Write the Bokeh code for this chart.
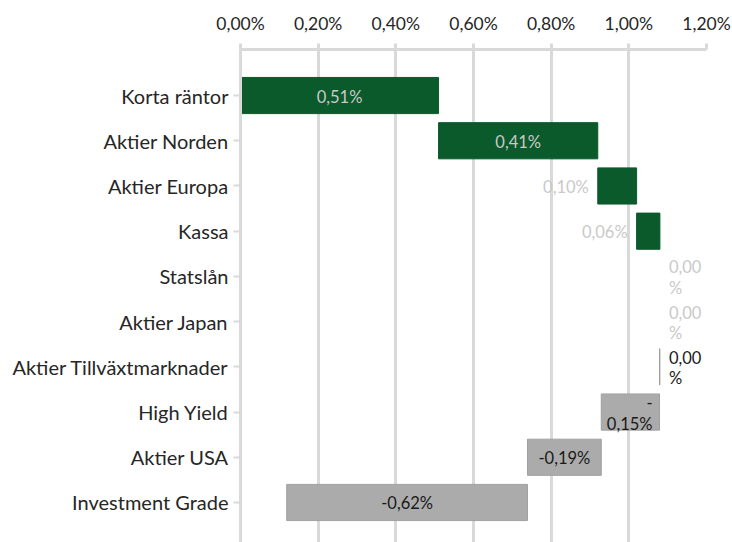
from bokeh.plotting import figure
from bokeh.models import Range1d, FixedTicker, CustomJSTickFormatter, ColumnDataSource
from bokeh.core.properties import value
from bokeh.embed import file_html
from bokeh.resources import INLINE

# ---- data ----
categories = ["Korta räntor", "Aktier Norden", "Aktier Europa", "Kassa", "Statslån",
              "Aktier Japan", "Aktier Tillväxtmarknader", "High Yield", "Aktier USA",
              "Investment Grade"]
contrib = [0.51, 0.41, 0.10, 0.06, 0.00, 0.00, -0.001, -0.15, -0.19, -0.62]
x_ticks = [0.0, 0.2, 0.4, 0.6, 0.8, 1.0, 1.2]
# label placement style per bar
label_mode = ["center", "center", "left", "left", "right", "right", "right", "wrap", "center", "center"]

FONT = "Lato"
GREEN = "#0a5a2b"
GRAY = "#ababab"
GRID = "#d9d9d9"

# waterfall geometry from data
starts, ends = [], []
run = 0.0
for v in contrib:
    starts.append(run)
    run += v
    ends.append(run)

idx = list(range(len(categories)))
fills = [GREEN if v > 0 else GRAY for v in contrib]
line_alpha = [0.0 if v == 0 else 1.0 for v in contrib]
line_cols = [GREEN if v > 0 else "#a0a0a0" for v in contrib]

bars = ColumnDataSource(dict(y=idx, left=starts, right=ends, fill=fills,
                             la=line_alpha, lc=line_cols))

p = figure(frame_width=466, frame_height=493, width=732, height=542,
           x_range=Range1d(0, 1.2), y_range=Range1d(9.885, -1.018),
           x_axis_location="above", output_backend="svg", toolbar_location=None,
           min_border_left=240, min_border_right=26, min_border_top=49,
           min_border_bottom=0, outline_line_color=None)

p.hbar(y="y", left="left", right="right", height=0.8, source=bars,
       fill_color="fill", line_color="lc", line_alpha="la", line_width=1)

# labels
lx, ly, lt, la_, lxo, lyo, lc = [], [], [], [], [], [], []
for i, v in enumerate(contrib):
    s = f"{abs(v):.2f}".replace(".", ",") + "%"
    if v < 0 and round(abs(v), 2) > 0:
        s = "-" + s
    col = "#c9c9c9" if v >= 0 else "#1a1a1a"
    mode = label_mode[i]
    lo, hi = min(starts[i], ends[i]), max(starts[i], ends[i])
    if mode == "center":
        lines = [s]; x = (lo + hi) / 2; al = "center"; xo = 0
    elif mode == "left":
        lines = [s]; x = lo; al = "right"; xo = -9
    elif mode == "right":
        lines = [s[:-1], "%"]; x = hi; al = "left"; xo = 9
    else:  # wrap inside bar
        lines = ["-", s[1:]]; x = hi; al = "right"; xo = -7
    n = len(lines)
    for k, t in enumerate(lines):
        lx.append(x); ly.append(i); lt.append(t); la_.append(al)
        lxo.append(xo); lyo.append((k - (n - 1) / 2) * 21 + 1); lc.append(col)

labels = ColumnDataSource(dict(x=lx, y=ly, text=lt, align=la_, xo=lxo, yo=lyo, c=lc))
p.text(x="x", y="y", text="text", source=labels, text_align="align",
       text_baseline="middle", x_offset="xo", y_offset="yo", text_color="c",
       text_font=value(FONT), text_font_size="16.5px")

# x axis (top)
xa = p.xaxis[0]
xa.ticker = FixedTicker(ticks=x_ticks)
xa.formatter = CustomJSTickFormatter(code="return tick.toFixed(2).replace('.', ',') + '%';")
xa.axis_line_color = GRID
xa.axis_line_width = 3
xa.major_tick_line_color = GRID
xa.major_tick_line_width = 3
xa.major_tick_out = 6
xa.major_tick_in = 0
xa.minor_tick_line_color = None
xa.major_label_text_font = FONT
xa.major_label_text_font_size = "17.5px"
xa.major_label_text_color = "#262626"
xa.major_label_standoff = 10

# y axis (categories)
ya = p.yaxis[0]
ya.ticker = FixedTicker(ticks=idx)
ya.formatter = CustomJSTickFormatter(args=dict(labels=categories),
                                     code="return labels[Math.round(tick)];")
ya.axis_line_color = GRID
ya.axis_line_width = 3
ya.major_tick_line_color = GRID
ya.major_tick_line_width = 2
ya.major_tick_out = 7
ya.major_tick_in = 0
ya.minor_tick_line_color = None
ya.major_label_text_font = FONT
ya.major_label_text_font_size = "20px"
ya.major_label_text_color = "#262626"
ya.major_label_standoff = 5

p.xgrid.grid_line_color = GRID
p.xgrid.grid_line_width = 3
p.xgrid.ticker = FixedTicker(ticks=x_ticks)
p.ygrid.grid_line_color = None

open("out.html", "w").write(file_html(p, INLINE))
